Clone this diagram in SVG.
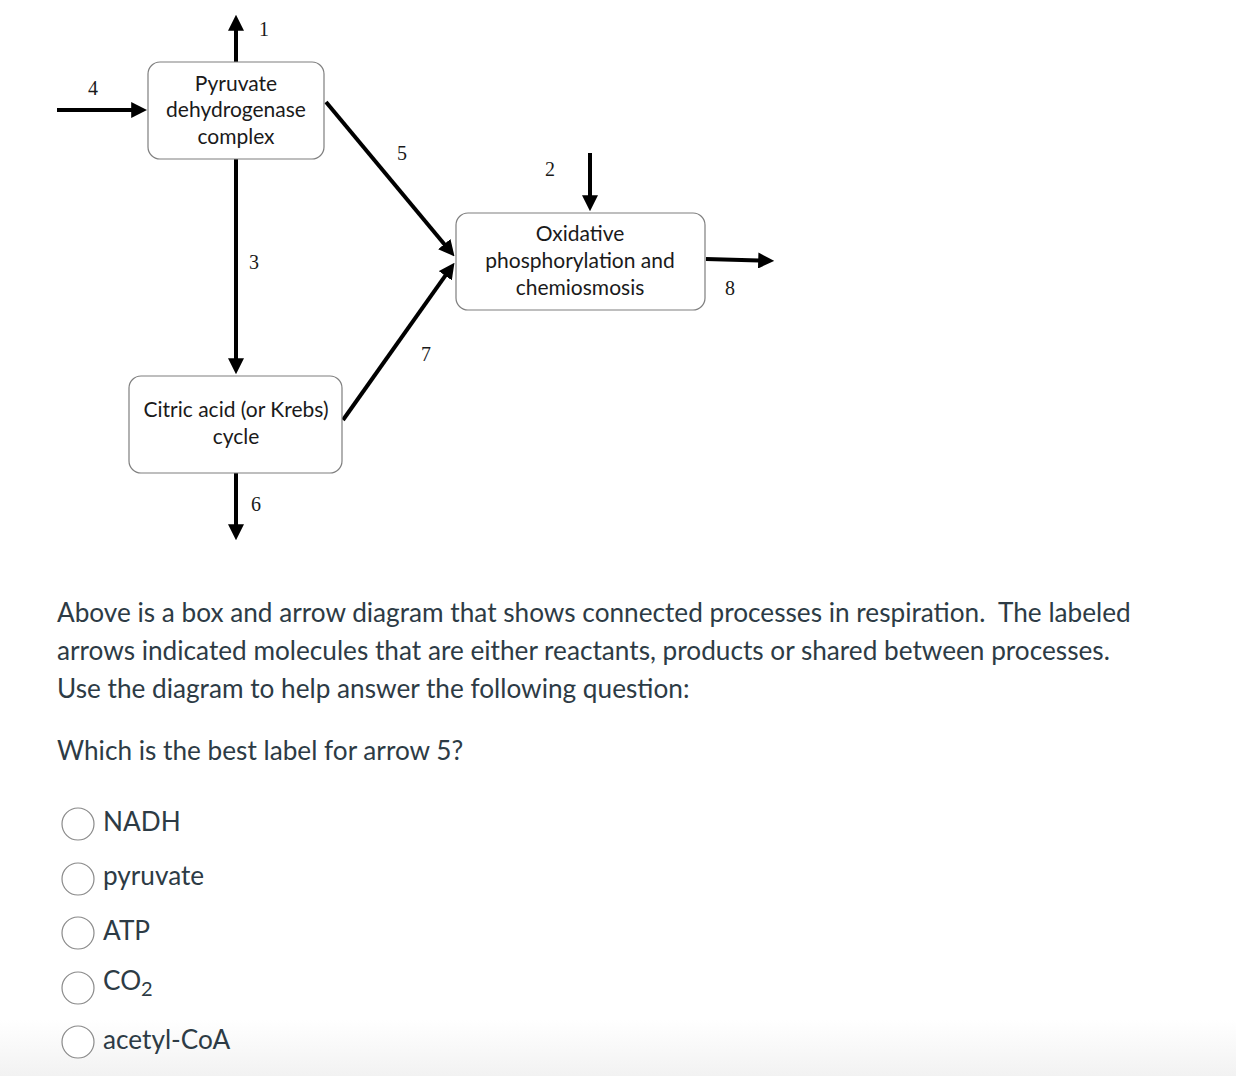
<svg xmlns="http://www.w3.org/2000/svg" width="1236" height="1076" viewBox="0 0 1236 1076">
<defs>
<marker id="ah" viewBox="0 0 10 10" refX="0.5" refY="5" markerWidth="4" markerHeight="4" markerUnits="strokeWidth" orient="auto">
<path d="M0,0 L10,5 L0,10 Z" fill="#000"/>
</marker>
<linearGradient id="fade" x1="0" y1="0" x2="0" y2="1">
<stop offset="0" stop-color="#f2f2f2" stop-opacity="0"/>
<stop offset="1" stop-color="#f2f2f2" stop-opacity="1"/>
</linearGradient>
</defs>
<style>
.box{fill:#fff;stroke:#7f7f7f;stroke-width:1.2}
.bt{font-family:Lato,"Open Sans",sans-serif;font-size:21px;fill:#1a1a1a;text-anchor:middle}
.num{font-family:"Liberation Serif",serif;font-size:20px;fill:#1a1a1a}
.ar{stroke:#000;stroke-width:4;fill:none;marker-end:url(#ah)}
.q{font-family:Lato,"Open Sans",sans-serif;font-size:26.2px;fill:#2d3b45}
.rad{fill:#fff;stroke:#8a8a8a;stroke-width:1.2}
</style>
<rect width="1236" height="1076" fill="#fff"/>
<rect x="0" y="1020" width="1236" height="56" fill="url(#fade)"/>

<g id="connectors">
<line class="ar" x1="236" y1="62" x2="236" y2="30"/>
<line class="ar" x1="57" y1="110" x2="132" y2="110"/>
<line class="ar" x1="236" y1="159" x2="236" y2="359"/>
<line class="ar" x1="236" y1="473" x2="236" y2="525"/>
<line class="ar" x1="326" y1="102" x2="444.8" y2="244.7"/>
<line class="ar" x1="343" y1="420" x2="445.7" y2="275.1"/>
<line class="ar" x1="590" y1="153" x2="590" y2="196"/>
<line class="ar" x1="706" y1="259" x2="759" y2="260.5"/>
</g>

<g id="labels">
<text class="num" x="259" y="36">1</text>
<text class="num" x="88" y="95">4</text>
<text class="num" x="249" y="269">3</text>
<text class="num" x="251" y="511">6</text>
<text class="num" x="397" y="160">5</text>
<text class="num" x="421" y="361">7</text>
<text class="num" x="545" y="176">2</text>
<text class="num" x="725" y="295">8</text>
</g>

<g id="pdc">
<rect class="box" x="148" y="62" width="176" height="97" rx="12"/>
<text class="bt" x="236" y="91">Pyruvate</text>
<text class="bt" x="236" y="117">dehydrogenase</text>
<text class="bt" x="236" y="144">complex</text>
</g>

<g id="krebs">
<rect class="box" x="129" y="376" width="213" height="97" rx="12"/>
<text class="bt" x="236" y="417">Citric acid (or Krebs)</text>
<text class="bt" x="236" y="444">cycle</text>
</g>

<g id="oxphos">
<rect class="box" x="456" y="213" width="249" height="97" rx="12"/>
<text class="bt" x="580" y="241">Oxidative</text>
<text class="bt" x="580" y="268">phosphorylation and</text>
<text class="bt" x="580" y="295">chemiosmosis</text>
</g>

<g id="question">
<text class="q" x="57" y="622" xml:space="preserve" style="white-space:pre">Above is a box and arrow diagram that shows connected processes in respiration.  The labeled</text>
<text class="q" x="57" y="660">arrows indicated molecules that are either reactants, products or shared between processes.</text>
<text class="q" x="57" y="698">Use the diagram to help answer the following question:</text>
<text class="q" x="57" y="760">Which is the best label for arrow 5?</text>
</g>

<g id="options">
<circle class="rad" cx="78" cy="824" r="16"/>
<text class="q" x="103" y="831">NADH</text>
<circle class="rad" cx="78" cy="879" r="16"/>
<text class="q" x="103" y="885">pyruvate</text>
<circle class="rad" cx="78" cy="933" r="16"/>
<text class="q" x="103" y="940">ATP</text>
<circle class="rad" cx="78" cy="988" r="16"/>
<text class="q" x="103" y="990">CO<tspan font-size="20" dy="6">2</tspan></text>
<circle class="rad" cx="78" cy="1042" r="16"/>
<text class="q" x="103" y="1049">acetyl-CoA</text>
</g>
</svg>
